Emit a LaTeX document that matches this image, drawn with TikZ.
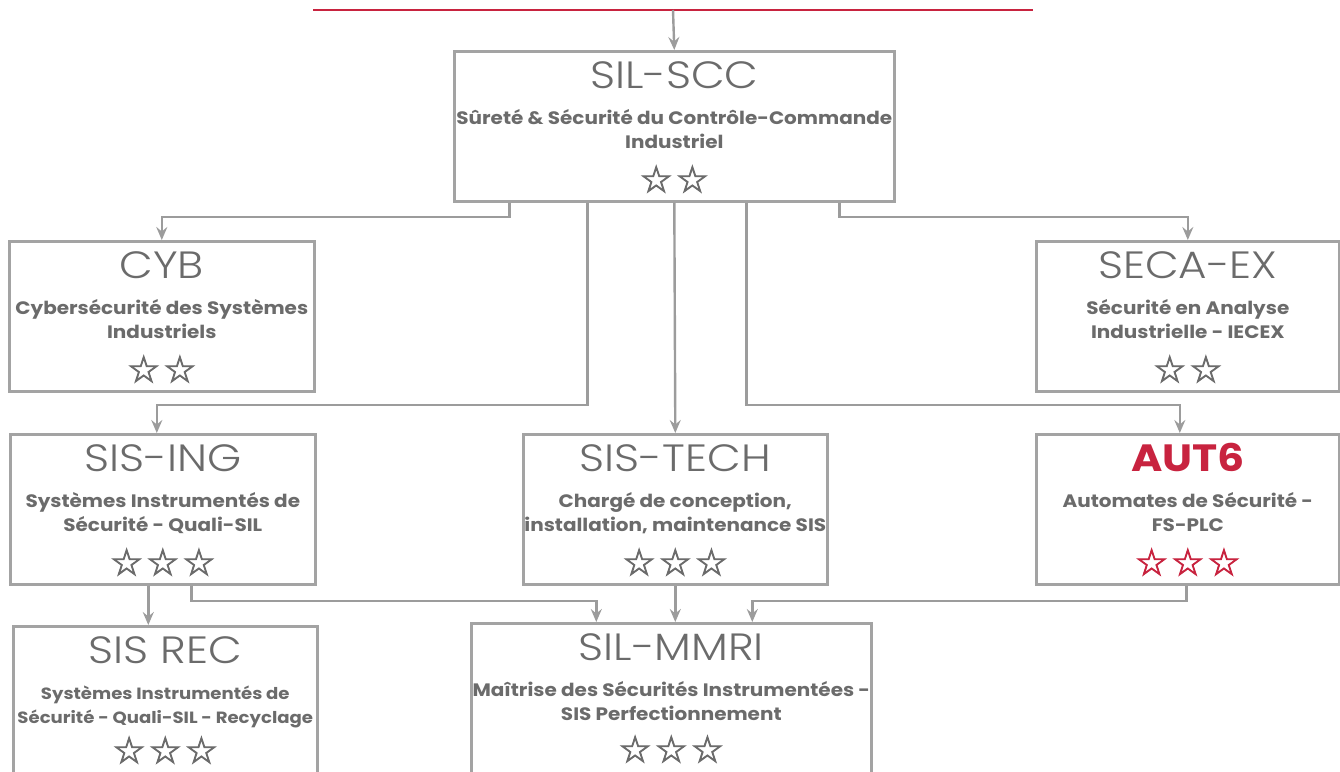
\documentclass[tikz,border=0pt]{standalone}
\usepackage{fontspec}
\setmainfont{Poppins}
\newfontfamily\ttlfont[FakeStretch=1.15]{Poppins Light}
\newfontfamily\ttlbold[FakeStretch=1.12]{Poppins Bold}
\newfontfamily\subfont[FakeStretch=1.11]{Poppins Bold}
\newfontfamily\starfont[FakeBold=2.2]{DejaVu Sans}
\usetikzlibrary{arrows.meta,calc}
\definecolor{linegray}{HTML}{9C9C9C}
\definecolor{boxgray}{HTML}{A3A3A3}
\definecolor{txtgray}{HTML}{6B6B6B}
\definecolor{accent}{HTML}{C8233F}
\def\subsize{18}
\def\staroff{129}
\newcommand{\sgap}{\hspace{3pt}}
\tikzset{
  box/.style={draw=boxgray,line width=2.6pt,fill=white,inner sep=0pt,anchor=north west},
  ttl/.style={text=txtgray,inner sep=0pt,anchor=base,font=\ttlfont\fontsize{38}{42}\selectfont},
  sub/.style={text=txtgray,inner sep=0pt,anchor=base,font=\subfont\fontsize{\subsize}{22}\selectfont},
  stars/.style={text=txtgray,inner sep=0pt,anchor=center,font=\starfont\fontsize{37}{40}\selectfont},
  conn/.style={draw=linegray,line width=2.4pt,-{Stealth[length=13pt,width=11pt,inset=4.5pt]}},
  topbar/.style={draw=accent,line width=2.8pt}
}
\newcommand{\coursebox}[9]{%
  \node[box,minimum width=#4pt,minimum height=#5pt] (#1) at (#2,#3) {};
  \node[ttl] (#1-t) at ($(#1.north)+(0,38)$) {#6};
  \node[sub] (#1-a) at ($(#1.north)+(0,74)$) {#7};
  \node[sub] (#1-b) at ($(#1.north)+(0,98)$) {#8};
  \node[stars] (#1-s) at ($(#1.north)+(0,\staroff)$) {#9};
}
\begin{document}
\begin{tikzpicture}[x=1pt,y=-1pt]
\useasboundingbox (0,0) rectangle (1340,771);
\clip (0,0) rectangle (1340,771);
\coordinate (barL) at (313,10);
\coordinate (barR) at (1033,10);
\coordinate (barM) at (673,10);
\draw[topbar] (barL) -- (barR);

\coursebox{scc}{453}{50}{440}{150}{SIL-SCC}{Sûreté \& Sécurité du Contrôle-Commande}{Industriel}{☆\sgap☆}
\coursebox{cyb}{8}{240}{305}{150}{CYB}{Cybersécurité des Systèmes}{Industriels}{☆\sgap☆}
\coursebox{seca}{1035}{240}{303}{150}{SECA-EX}{Sécurité en Analyse}{Industrielle - IECEX}{☆\sgap☆}
\coursebox{sising}{9}{433}{305}{150}{SIS-ING}{Systèmes Instrumentés de}{Sécurité - Quali-SIL}{☆\sgap☆\sgap☆}
\coursebox{sistech}{522}{433}{304}{150}{SIS-TECH}{Chargé de conception,}{installation, maintenance SIS}{☆\sgap☆\sgap☆}
\coursebox{aut6}{1035}{433}{303}{150}{{\ttlbold\color{accent}AUT6}}{Automates de Sécurité -}{FS-PLC}{{\color{accent}☆\sgap☆\sgap☆}}
\def\staroff{127}
\coursebox{mmri}{470}{622}{400}{200}{SIL-MMRI}{Maîtrise des Sécurités Instrumentées -}{SIS Perfectionnement}{☆\sgap☆\sgap☆}
\def\subsize{16.3}
\def\staroff{125}
\coursebox{sisrec}{12}{625}{304}{200}{SIS REC}{Systèmes Instrumentés de}{Sécurité - Quali-SIL - Recyclage}{☆\sgap☆\sgap☆}

\draw[conn] (barM) -- (scc.north);
\draw[conn] ([xshift=-165pt]scc.south) |- ([yshift=23pt]cyb.north) -- (cyb.north);
\draw[conn] ([xshift=165pt]scc.south) |- ([yshift=23pt]seca.north) -- (seca.north);
\draw[conn] ([xshift=-87pt]scc.south) |- ([xshift=-6pt,yshift=28pt]sising.north) -- ([xshift=-6pt]sising.north);
\draw[conn] (scc.south) -- (sistech.north);
\draw[conn] ([xshift=72pt]scc.south) |- ([xshift=-8pt,yshift=28pt]aut6.north) -- ([xshift=-8pt]aut6.north);
\draw[conn] ([xshift=-14.5pt]sising.south) -- ([xshift=-17pt]sisrec.north);
\draw[conn] ([xshift=28.5pt]sising.south) |- ([xshift=-75pt,yshift=21pt]mmri.north) -- ([xshift=-75pt]mmri.north);
\draw[conn] (sistech.south) -- (sistech.south |- mmri.north);
\draw[conn] ([xshift=-1.5pt]aut6.south) |- ([xshift=81pt,yshift=21pt]mmri.north) -- ([xshift=81pt]mmri.north);
\end{tikzpicture}
\end{document}
